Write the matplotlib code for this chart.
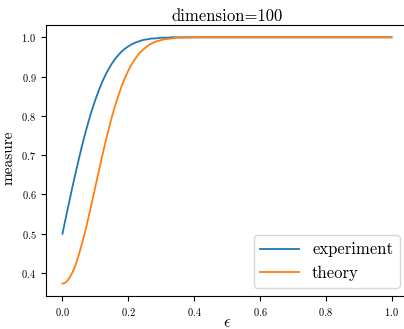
import matplotlib
matplotlib.use("Agg")
import matplotlib.pyplot as plt

eps = [0.00, 0.01, 0.02, 0.03, 0.04, 0.05, 0.06, 0.07, 0.08, 0.09,
       0.10, 0.11, 0.12, 0.13, 0.14, 0.15, 0.16, 0.17, 0.18, 0.19,
       0.20, 0.21, 0.22, 0.23, 0.24, 0.25, 0.26, 0.27, 0.28, 0.29,
       0.30, 0.31, 0.32, 0.33, 0.34, 0.35, 0.36, 0.38, 0.40, 0.50, 1.00]

experiment = [0.500, 0.540, 0.579, 0.618, 0.655, 0.691, 0.726, 0.758, 0.788, 0.816,
              0.841, 0.864, 0.885, 0.903, 0.919, 0.933, 0.945, 0.955, 0.964, 0.971,
              0.977, 0.982, 0.986, 0.989, 0.992, 0.994, 0.995, 0.997, 0.997, 0.998,
              0.999, 0.999, 0.999, 1.000, 1.000, 1.000, 1.000, 1.000, 1.000, 1.000, 1.000]

theory = [0.373, 0.376, 0.386, 0.401, 0.421, 0.447, 0.477, 0.509, 0.545, 0.582,
          0.620, 0.658, 0.695, 0.731, 0.765, 0.797, 0.826, 0.852, 0.876, 0.897,
          0.915, 0.931, 0.944, 0.956, 0.965, 0.972, 0.979, 0.984, 0.988, 0.991,
          0.993, 0.995, 0.996, 0.997, 0.998, 0.999, 0.999, 0.9995, 1.000, 1.000, 1.000]

series_labels = ["experiment", "theory"]
title = "dimension=100"

plt.rcParams["font.family"] = ["cmr10"]
plt.rcParams["mathtext.fontset"] = "cm"
plt.rcParams["axes.formatter.use_mathtext"] = True

fig = plt.figure(figsize=(4.04, 3.29), dpi=100)
ax = fig.add_axes([46 / 404, 1 - 296 / 329, (408 - 46) / 404, (296 - 25) / 329])

ax.plot(eps, experiment, color="#1f77b4", lw=1.3, label=series_labels[0])
ax.plot(eps, theory, color="#ff7f0e", lw=1.3, label=series_labels[1])

ax.set_title(title, fontsize=12, pad=3)
ax.set_xlabel(r"$\epsilon$", fontsize=12)
ax.set_ylabel("measure", fontsize=11)
ax.yaxis.set_label_coords(-0.083, 0.51)
ax.xaxis.set_label_coords(0.5, -0.07)
ax.tick_params(labelsize=7.5)
ax.set_xticks([0.0, 0.2, 0.4, 0.6, 0.8, 1.0])
ax.set_yticks([0.4, 0.5, 0.6, 0.7, 0.8, 0.9, 1.0])

ax.legend(loc="lower right", fontsize=12, handlelength=2.3)

fig.savefig("out.png", dpi=100)
